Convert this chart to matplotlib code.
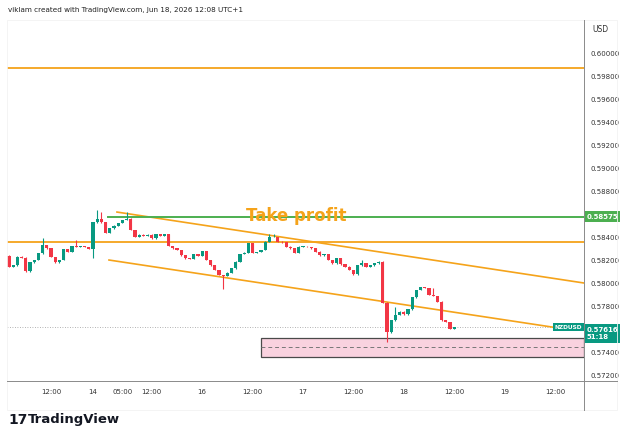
import matplotlib.pyplot as plt
from matplotlib.lines import Line2D
from matplotlib.patches import Rectangle
from matplotlib.transforms import blended_transform_factory

# hourly NZDUSD closes (open = previous close)
first_open = 0.58238
closes = [
    0.58142, 0.58156, 0.58229, 0.58220, 0.58104, 0.58182, 0.58200, 0.58258, 0.58330, 0.58304,
    0.58226, 0.58182, 0.58200, 0.58296, 0.58270, 0.58322, 0.58313, 0.58322, 0.58313, 0.58296,
    0.58530, 0.58557, 0.58530, 0.58435, 0.58478, 0.58498, 0.58522, 0.58548, 0.58557, 0.58461,
    0.58400, 0.58418, 0.58409, 0.58418, 0.58391, 0.58426, 0.58413, 0.58426, 0.58322, 0.58304,
    0.58287, 0.58243, 0.58217, 0.58213, 0.58252, 0.58235, 0.58278, 0.58200, 0.58156, 0.58113,
    0.58070, 0.58061, 0.58089, 0.58130, 0.58185, 0.58252, 0.58264, 0.58346, 0.58261, 0.58270,
    0.58287, 0.58357, 0.58400, 0.58400, 0.58359, 0.58354, 0.58316, 0.58302, 0.58261, 0.58316,
    0.58316, 0.58313, 0.58304, 0.58272, 0.58243, 0.58250, 0.58200, 0.58171, 0.58215, 0.58165,
    0.58142, 0.58113, 0.58078, 0.58156, 0.58171, 0.58142, 0.58156, 0.58171, 0.58185, 0.57830,
    0.57570, 0.57678, 0.57722, 0.57750, 0.57730, 0.57771, 0.57878, 0.57939, 0.57965, 0.57957,
    0.57896, 0.57887, 0.57838, 0.57678, 0.57661, 0.57600, 0.57616,
]
# long wicks that stick out of the bodies
wick_highs = {8: 0.58391, 16: 0.58374, 21: 0.58635, 22: 0.58617, 28: 0.58620,
              62: 0.58426, 63: 0.58426, 84: 0.58200, 92: 0.57791, 101: 0.57957}
wick_lows = {20: 0.58217, 51: 0.57948, 90: 0.57485}

tick_pos = [10, 20, 27, 34, 46, 58, 70, 82, 94, 106, 118, 130]
tick_labels = ['12:00', '14', '05:00', '12:00', '16', '12:00', '17', '12:00', '18', '12:00', '19', '12:00']
price_ticks = [0.572, 0.574, 0.578, 0.580, 0.582, 0.584, 0.588, 0.590, 0.592, 0.594, 0.596, 0.598, 0.600]

top_level = 0.59870
mid_level = 0.58355
take_profit = 0.58575
tp_start = 23.5
last_price = 0.57616
upper_x, upper_y = [25.7, 136.9], [0.58617, 0.58000]
lower_x, lower_y = [23.8, 129.5], [0.58200, 0.57616]
zone_x = [60, 136.9]
zone_y = [0.57359, 0.57524]
zone_mid = 0.57441

GREEN = '#089981'
RED = '#f23645'
ORANGE = '#f5a31a'

fig = plt.figure(figsize=(6.25, 4.41), dpi=100)
W, H = 625, 441
ax = fig.add_axes([7 / W, 1 - 381 / H, 577 / W, 361 / H])

opens = [first_open] + closes[:-1]
for i, (o, c) in enumerate(zip(opens, closes)):
    col = GREEN if c >= o else RED
    h = c - o
    if abs(h) < 0.00003:
        h = 0.00003 if h >= 0 else -0.00003
    hi = wick_highs.get(i, max(o, c) + 0.00004)
    lo = wick_lows.get(i, min(o, c) - 0.00004)
    ax.vlines(i, lo, hi, color=col, lw=0.8, zorder=3)
    ax.bar(i, h, bottom=o, width=0.75, color=col, lw=0, zorder=4)

ax.axhline(top_level, color=ORANGE, lw=1.3)
ax.axhline(mid_level, color=ORANGE, lw=1.3)
ax.plot(upper_x, upper_y, color=ORANGE, lw=1.2)
ax.plot(lower_x, lower_y, color=ORANGE, lw=1.2)
ax.plot([tp_start, 136.9], [take_profit, take_profit], color='#4caf50', lw=1.4, zorder=2)
ax.text(68.5, take_profit + 0.00008, 'Take profit', ha='center', va='center',
        fontsize=12, fontweight='bold', color=ORANGE, zorder=5)

ax.add_patch(Rectangle((zone_x[0], zone_y[0]), zone_x[1] - zone_x[0], zone_y[1] - zone_y[0],
                       facecolor='#f9d2df', edgecolor='#4a4a4a', lw=0.9, zorder=2))
ax.plot(zone_x, [zone_mid, zone_mid], color='#777777', lw=0.7, ls=(0, (4, 3)), zorder=3)
ax.axhline(last_price, color='#9a9a9a', lw=0.6, ls=(0, (1, 2)), zorder=1)

ax.set_xlim(-0.48, 136.9)
ax.set_ylim(0.57148, 0.60287)
ax.set_xticks(tick_pos)
ax.set_xticklabels(tick_labels)
ax.yaxis.tick_right()
ax.set_yticks(price_ticks)
ax.set_yticklabels([f'{v:.5f}' for v in price_ticks])
ax.tick_params(axis='both', length=0, labelsize=5, labelcolor='#333333')
ax.tick_params(axis='y', pad=5)
ax.tick_params(axis='x', pad=6)
for s in ax.spines.values():
    s.set_visible(False)

# price labels on the scale
tr = blended_transform_factory(ax.transAxes, ax.transData)
ax.text(1.004, take_profit, '0.58575', transform=tr, ha='left', va='center', fontsize=5,
        color='white', fontweight='bold',
        bbox=dict(boxstyle='square,pad=0.35', fc='#4caf50', ec='none'), clip_on=False)
ax.text(1.004, last_price + 0.00004, '0.57616\n51:18', transform=tr, ha='left', va='top',
        fontsize=5, color='white', fontweight='bold', linespacing=1.3,
        bbox=dict(boxstyle='square,pad=0.35', fc=GREEN, ec='none'), clip_on=False)
ax.text(0.997, last_price, 'NZDUSD', transform=tr, ha='right', va='center', fontsize=4.2,
        color='white', fontweight='bold',
        bbox=dict(boxstyle='square,pad=0.3', fc=GREEN, ec='none'), zorder=6)

# panel frame and separators
fig.add_artist(Rectangle((7 / W, 1 - 410 / H), 610 / W, 390 / H, transform=fig.transFigure,
                         fill=False, ec='#f3f3f3', lw=0.6))
fig.add_artist(Line2D([584 / W, 584 / W], [1 - 20 / H, 1 - 410 / H], color='#8a8a8a', lw=0.7))
fig.add_artist(Line2D([7 / W, 617 / W], [1 - 381 / H, 1 - 381 / H], color='#8a8a8a', lw=0.7))

fig.text(8 / W, 1 - 10 / H, 'viklam created with TradingView.com, Jun 18, 2026 12:08 UTC+1',
         fontsize=5.2, color='#222222', va='center', ha='left')
fig.text(600 / W, 1 - 30 / H, 'USD', fontsize=5.5, color='#333333', va='center', ha='center')
fig.text(8 / W, 1 - 420 / H, '17', fontsize=10, fontweight='heavy', color='#131722',
         va='center', ha='left')
fig.text(28 / W, 1 - 420 / H, 'TradingView', fontsize=9.5, fontweight='bold', color='#131722',
         va='center', ha='left')

fig.savefig('out.png', dpi=100)
